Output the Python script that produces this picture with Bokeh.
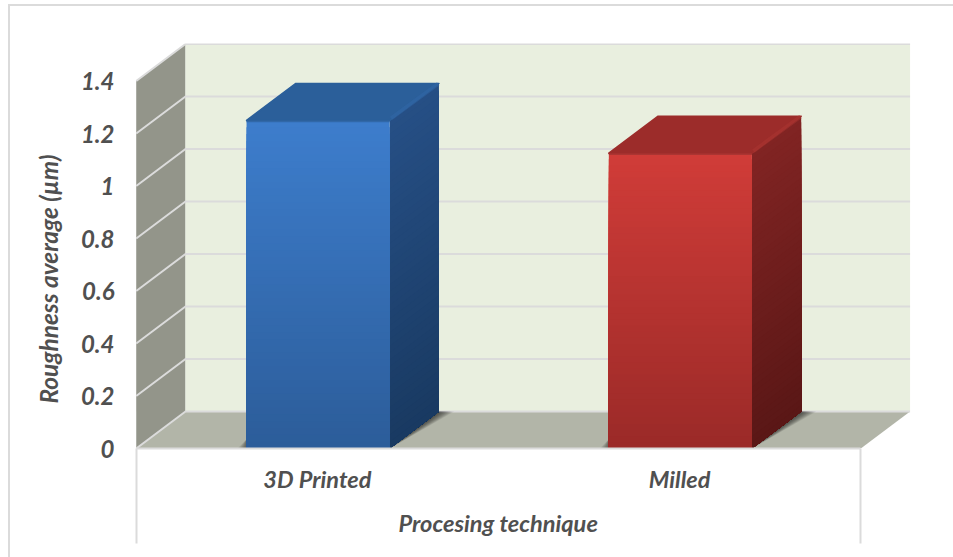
from bokeh.embed import file_html
from bokeh.models import FixedTicker, InlineStyleSheet, LinearAxis, Range1d, Title
from bokeh.plotting import figure
from bokeh.resources import INLINE

# Chart content
categories = ["3D Printed", "Milled"]
roughness = [1.25, 1.125]
y_ticks = [0, 0.2, 0.4, 0.6, 0.8, 1, 1.2, 1.4]
y_tick_labels = ["0", "0.2", "0.4", "0.6", "0.8", "1", "1.2", "1.4"]
y_title = "Roughness average (µm)"
x_title = "Procesing technique"

# Shades per bar: front top/bottom, side top/bottom, top face, highlight
front_top = ["#3d7dcc", "#d03c38"]
front_bottom = ["#2c5d9a", "#9b2a28"]
side_top = ["#264f85", "#812423"]
side_bottom = ["#193a62", "#5a1716"]
top_face = ["#2b5f9a", "#9c2c2a"]
ridge = ["#3168a8", "#ab3532"]

FONT = "Lato"
TEXT = "#505050"
RULE = "#dbdbdb"

# Oblique projection of the box, in axis units
DX = 0.136
DY = 0.141
BAR_W = 0.395
BAR_SHIFT = 0.002
Y_MAX = y_ticks[-1]
N_CAT = len(categories)
STEPS = 48


def mix(a, b, t):
    ca = [int(a[i:i + 2], 16) for i in (1, 3, 5)]
    cb = [int(b[i:i + 2], 16) for i in (1, 3, 5)]
    return "#%02x%02x%02x" % tuple(round(u + (v - u) * t) for u, v in zip(ca, cb))


# Chart-area border, left open where it runs off the page
area_border = InlineStyleSheet(css=f"""
:host::after {{
    content: ""; position: absolute; left: 8px; top: 4px; right: 0; bottom: 0;
    border-left: 2px solid {RULE}; border-top: 2px solid {RULE};
    pointer-events: none;
}}
""")

p = figure(
    frame_width=777, frame_height=405, output_backend="svg", toolbar_location=None,
    x_range=Range1d(-0.002, 2.1427), y_range=Range1d(0, 1.543),
    x_axis_type=None, y_axis_type=None,
    min_border_left=135, min_border_right=41, min_border_top=43, min_border_bottom=109,
    outline_line_color=None, background_fill_color="white", border_fill_color="white",
    stylesheets=[area_border],
)
p.grid.visible = False

# Walls and floor
p.patch([0, DX, DX, 0], [0, DY, Y_MAX + DY, Y_MAX], color="#93958a", line_width=0)
p.quad(left=DX, right=N_CAT + DX, bottom=DY, top=Y_MAX + DY, color="#e9efdf", line_width=0)
p.patch([0, N_CAT, N_CAT + DX, DX], [0, 0, DY, DY], color="#b2b5a8", line_width=0)

# Gridlines run along the back wall and down the side wall
for v in y_ticks:
    p.line([0, DX, N_CAT + DX], [v, v + DY, v + DY], line_color=RULE, line_width=2)

for i, (name, val) in enumerate(zip(categories, roughness)):
    c = i + 0.5 + BAR_SHIFT
    x0, x1 = c - BAR_W / 2, c + BAR_W / 2

    # Soft floor shadow beside the bar
    for k in range(10):
        reach = 0.006 + 0.004 * k
        p.patch([x1, x1 + DX, x1 + DX + reach], [0, DY, DY],
                color="black", alpha=0.07, line_width=0)
        p.patch([x0, x0 - reach * 0.6, x0], [0, 0, DY * 0.25],
                color="black", alpha=0.05, line_width=0)

    # Front and side faces, shaded from the top down
    for s in range(STEPS):
        t = s / (STEPS - 1)
        h = val * (1 - s / STEPS)
        p.patch([x1, x1 + DX, x1 + DX, x1], [0, DY, h + DY, h],
                color=mix(side_top[i], side_bottom[i], t), line_width=0)
    for s in range(STEPS):
        t = s / (STEPS - 1)
        h = val * (1 - s / STEPS)
        p.quad(left=x0, right=x1, bottom=0, top=h,
               color=mix(front_top[i], front_bottom[i], t), line_width=0)

    # Top face with a bevelled outer edge
    p.patch([x0, x1, x1 + DX, x0 + DX], [val, val, val + DY, val + DY],
            fill_color=top_face[i], line_color=top_face[i], line_width=1.5, line_join="round")
    p.line([x1 + 0.004, x1 + DX - 0.002], [val + 0.008, val + DY - 0.002],
           line_color=ridge[i], line_width=4, line_alpha=0.5)
    p.line([x0, x1], [val - 0.004, val - 0.004], line_color=ridge[i], line_width=1.5)

# Value axis
y_axis = LinearAxis(
    ticker=FixedTicker(ticks=y_ticks),
    major_label_overrides={v: s for v, s in zip(y_ticks, y_tick_labels)},
    axis_line_color=None, major_tick_line_color=None, minor_tick_line_color=None,
    major_label_standoff=15,
    major_label_text_font=FONT, major_label_text_font_style="bold italic",
    major_label_text_font_size="24px", major_label_text_color=TEXT,
)
p.add_layout(y_axis, "left")

# Category axis: long minor ticks form the table-style dividers under the floor
centres = [i + 0.5 for i in range(N_CAT)]
x_axis = LinearAxis(
    ticker=FixedTicker(ticks=centres, minor_ticks=[0, N_CAT]),
    major_label_overrides={c: s for c, s in zip(centres, categories)},
    bounds=(0, N_CAT),
    axis_line_color=RULE, axis_line_width=2,
    major_tick_line_color=None, minor_tick_line_color=RULE, minor_tick_line_width=2,
    minor_tick_out=95, minor_tick_in=0,
    major_label_standoff=-79,
    major_label_text_font=FONT, major_label_text_font_style="bold italic",
    major_label_text_font_size="23.5px", major_label_text_color=TEXT,
)
p.add_layout(x_axis, "below")

# Axis titles are centred on the drawn axes rather than on the frame
title_style = dict(
    text_font=FONT, text_font_style="bold italic",
    text_color=TEXT, align="left",
)
p.add_layout(Title(text=x_title, offset=263, standoff=23, text_font_size="23.6px", **title_style), "below")
p.add_layout(Title(text=y_title, offset=45, standoff=29, text_font_size="24.4px", **title_style), "left")

open("out.html", "w").write(file_html(p, INLINE))
